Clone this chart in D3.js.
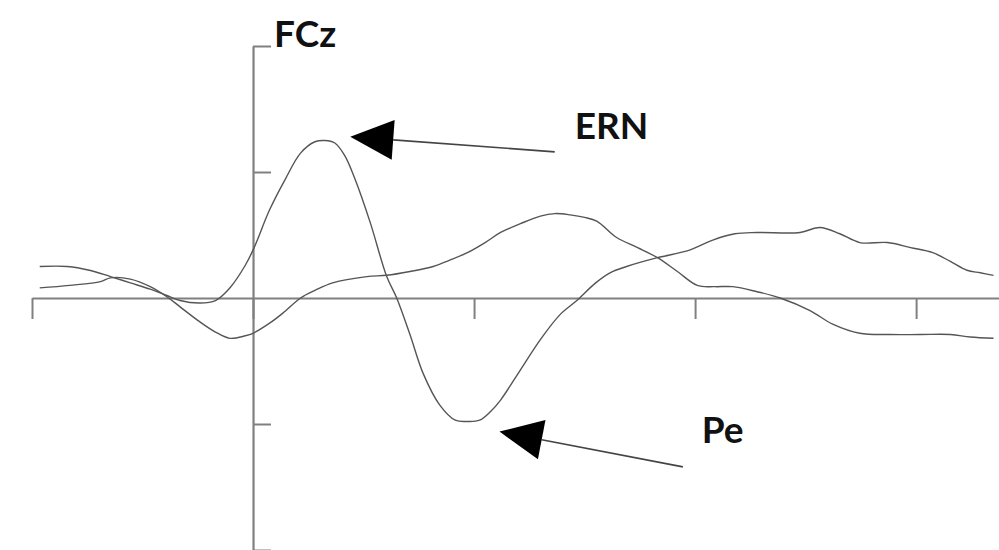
<html>
  <head>
    <script src="https://cdn.jsdelivr.net/npm/d3@7"></script>
    <style>
      body{margin:0;background:#fff;}
      text{font-family:Lato,"Open Sans",sans-serif;font-weight:bold;fill:#111;}
    </style>
  </head>
  <body>
    <script>
      // error trial (ERN / Pe) waveform, ms and microvolts
      var timesA=[-193,-168,-148,-129,-111,-93,-78,-66,-48,-34,-21,-7,1,15,29,43,56,65,74,83,92,106,121,130,142,154,169,183,194,205,215,224,242,260,278,293,310,323,338,366,395,416,436,456,495,513,531,549,574,595,615,631,646,658,670];
      var valuesA=[-0.25,-0.25,-0.22,-0.17,-0.12,-0.07,-0.02,0.02,0.04,0.02,-0.08,-0.26,-0.40,-0.70,-0.94,-1.15,-1.24,-1.25,-1.23,-1.13,-0.95,-0.60,-0.17,0,0.29,0.60,0.85,0.97,0.98,0.97,0.90,0.81,0.57,0.33,0.13,0.02,-0.12,-0.20,-0.25,-0.32,-0.38,-0.46,-0.51,-0.52,-0.52,-0.56,-0.51,-0.44,-0.44,-0.40,-0.36,-0.29,-0.22,-0.20,-0.18];
      // correct trial waveform
      var timesB=[-193,-166,-138,-129,-111,-93,-78,-66,-48,-34,-21,-7,0,15,27,43,56,72,103,121,142,163,178,194,210,224,242,260,273,287,300,311,329,348,366,384,402,418,434,456,477,504,525,549,576,604,631,649,670];
      var valuesB=[-0.08,-0.10,-0.13,-0.16,-0.15,-0.09,-0.01,0.07,0.19,0.27,0.32,0.30,0.28,0.20,0.12,0,-0.06,-0.12,-0.17,-0.18,-0.21,-0.25,-0.30,-0.36,-0.44,-0.52,-0.59,-0.65,-0.67,-0.66,-0.64,-0.61,-0.48,-0.40,-0.32,-0.21,-0.10,-0.09,-0.09,-0.05,0,0.10,0.21,0.28,0.29,0.29,0.29,0.31,0.32];

      var xTicks=[-200,0,200,400,600];
      var yTicks=[-2,-1,0,1,2];
      var channel="FCz";
      // annotations: label, text position, arrow tip, arrow tail (data units)
      var labels=["ERN","Pe"];
      var labelPos=[[291,-1.26],[406,1.15]];
      var arrowTips=[[88,-1.28],[223,1.06]];
      var arrowTails=[[273,-1.16],[389,1.34]];

      var width=999,height=550;
      var svg=d3.select('body').append('svg')
                .attr('width',width)
                .attr('height',height);

      var x=d3.scaleLinear().domain([-200,675]).range([32,999]);
      // negative plotted up, as usual for ERPs
      var y=d3.scaleLinear().domain([-2,2]).range([46,550]);

      var axisColor="#808080";

      // x axis along zero line, ticks hanging down
      var gx=svg.append('g')
                .attr('transform','translate(0,'+y(0)+')')
                .call(d3.axisBottom(x).tickValues(xTicks).tickSize(21).tickSizeOuter(0).tickFormat(''));
      gx.select('.domain').attr('stroke',axisColor).attr('stroke-width',2);
      gx.selectAll('.tick line').attr('stroke',axisColor).attr('stroke-width',2);

      // y axis at time zero, ticks pointing right
      var gy=svg.append('g')
                .attr('transform','translate('+x(0)+',0)')
                .call(d3.axisRight(y).tickValues(yTicks).tickSize(18).tickSizeOuter(0).tickFormat(''));
      gy.select('.domain').attr('stroke',axisColor).attr('stroke-width',2.2);
      gy.selectAll('.tick line').attr('stroke',axisColor).attr('stroke-width',2);
      gy.selectAll('.tick').filter(function(d){return d===0;}).remove();

      svg.append('text')
         .attr('x',x(0)+21)
         .attr('y',y(-2)+1)
         .attr('font-size',37)
         .text(channel);

      var line=d3.line()
                 .x(function(d){return x(d[0]);})
                 .y(function(d){return y(d[1]);})
                 .curve(d3.curveCatmullRom.alpha(0.5));

      [[timesA,valuesA],[timesB,valuesB]].forEach(function(s){
        var pts=s[0].map(function(t,i){return [t,s[1][i]];});
        svg.append('path')
           .attr('d',line(pts))
           .attr('fill','none')
           .attr('stroke','#555')
           .attr('stroke-width',1.4);
      });

      // arrows
      for(var i=0;i<labels.length;i++)
      {
        var tx=x(arrowTips[i][0]),ty=y(arrowTips[i][1]);
        var ex=x(arrowTails[i][0]),ey=y(arrowTails[i][1]);
        var dx=ex-tx,dy=ey-ty,len=Math.sqrt(dx*dx+dy*dy);
        var ux=dx/len,uy=dy/len;
        var hl=43,hw=20;
        var bx=tx+ux*hl,by=ty+uy*hl;
        svg.append('line')
           .attr('x1',bx).attr('y1',by)
           .attr('x2',ex).attr('y2',ey)
           .attr('stroke','#444')
           .attr('stroke-width',1.6);
        svg.append('path')
           .attr('d','M'+tx+','+ty+'L'+(bx-uy*hw)+','+(by+ux*hw)+'L'+(bx+uy*hw)+','+(by-ux*hw)+'Z')
           .attr('fill','#000');
        svg.append('text')
           .attr('x',x(labelPos[i][0]))
           .attr('y',y(labelPos[i][1]))
           .attr('font-size',37)
           .text(labels[i]);
      }
    </script>
  </body>
</html>
